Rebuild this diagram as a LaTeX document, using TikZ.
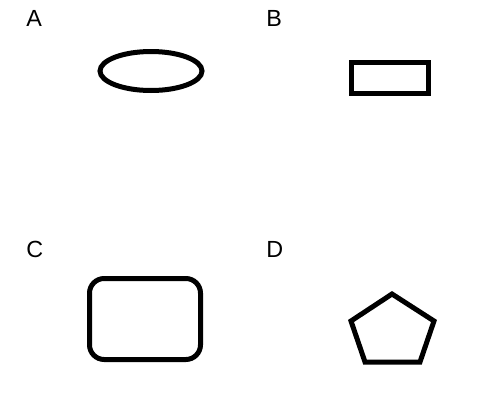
\documentclass[tikz,border=0pt]{standalone}
\usepackage{fontspec}
\setmainfont{Liberation Sans}
\usetikzlibrary{shapes.geometric}

\begin{document}
\begin{tikzpicture}[
  x=0.75pt, y=-0.75pt,
  lbl/.style={anchor=base west, inner sep=0pt, font=\fontsize{17.5}{20}\selectfont},
  shp/.style={draw=black, line width=3.75pt, inner sep=0pt},
]
  \useasboundingbox (0,0) rectangle (501,415);
  \node[lbl] (la) at (26,26) {A};
  \node[lbl] (lb) at (266,26) {B};
  \node[lbl] (lc) at (26,257) {C};
  \node[lbl] (ld) at (266,257) {D};
  \node[shp, ellipse, minimum width=76.5pt, minimum height=29.25pt] (oval) at (151,71) {};
  \node[shp, rectangle, minimum width=57.75pt, minimum height=23.25pt] (rect) at (390,78) {};
  \node[shp, rectangle, rounded corners=11pt, minimum width=83.25pt, minimum height=60.75pt] (rrect) at (145,319) {};
  \draw[line width=3.75pt, line join=miter] (392,294) -- (434,321) -- (420,362) -- (365,362) -- (351,321) -- cycle;
\end{tikzpicture}
\end{document}
